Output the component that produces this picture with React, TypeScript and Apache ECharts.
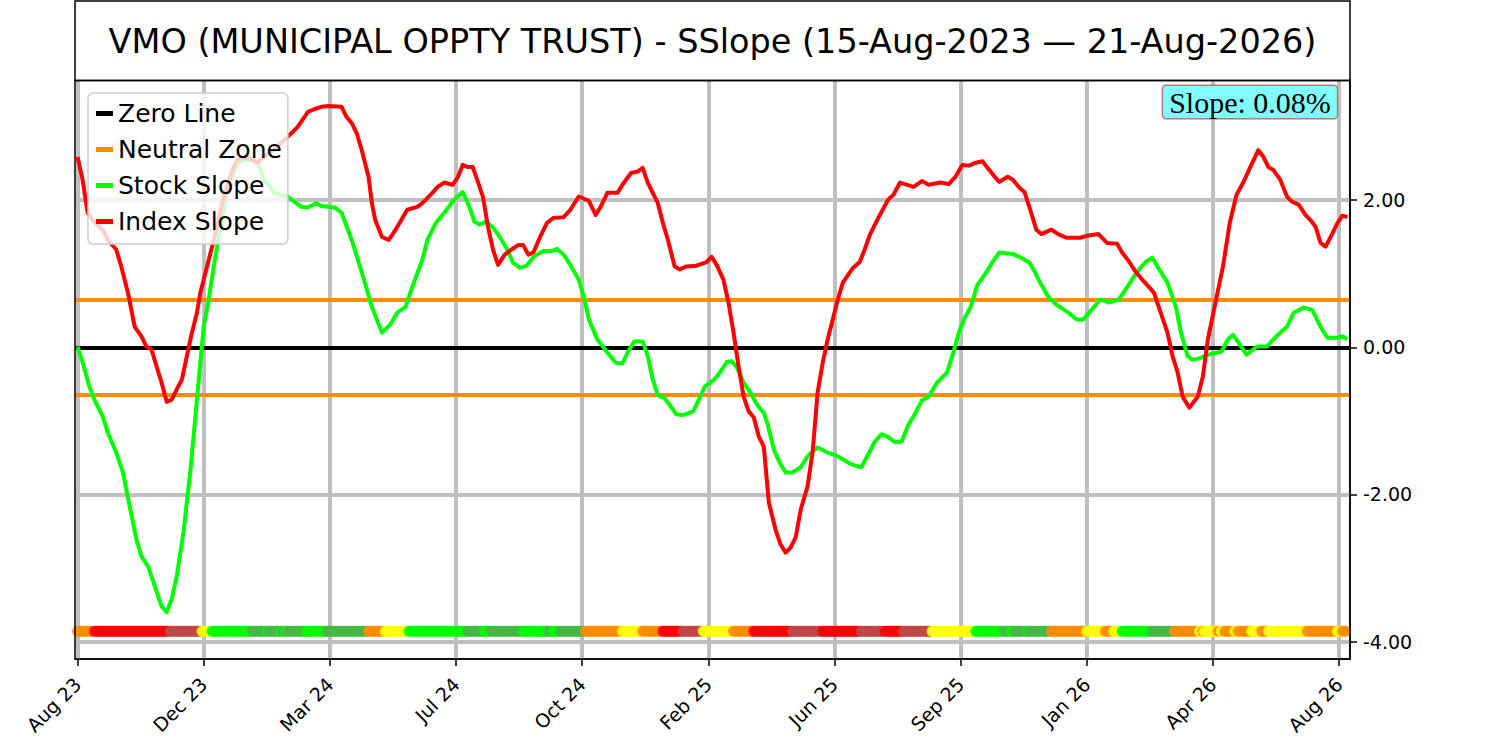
import React, { useEffect, useRef } from "react";
import * as echarts from "echarts";

// ---- axis / reference data ----
const tickIndex = [0, 75, 150, 225, 300, 375, 450, 525, 600, 675, 750];
const tickLabels = ["Aug 23", "Dec 23", "Mar 24", "Jul 24", "Oct 24", "Feb 25", "Jun 25", "Sep 25", "Jan 26", "Apr 26", "Aug 26"];
const yTicks = [-4, -2, 0, 2];
const zeroLevel = 0;
const neutralUpper = 0.65;
const neutralLower = -0.65;
const bandLevel = -3.86;
const bandLength = 755;
const slopeText = "Slope: 0.08%";
const titleText = "VMO (MUNICIPAL OPPTY TRUST) - SSlope (15-Aug-2023 \u2014 21-Aug-2026)";

// ---- series values: [trading-day index, slope] ----
const stockSlope = [
  [0, 0.01], [3, -0.2], [7, -0.53], [10, -0.71], [15, -0.94], [18, -1.16], [23, -1.43], [27, -1.7], [31, -2.16], [35, -2.61],
  [38, -2.84], [42, -2.98], [46, -3.25], [50, -3.52], [53, -3.6], [56, -3.42], [59, -3.11], [63, -2.51], [67, -1.7], [71, -0.71],
  [75, 0.28], [78, 0.65], [81, 1.1], [84, 1.5], [89, 2.14], [94, 2.45], [98, 2.55], [104, 2.55], [107, 2.51], [111, 2.28],
  [117, 2.1], [125, 2.05], [133, 1.91], [137, 1.9], [142, 1.96], [145, 1.92], [153, 1.9], [157, 1.83], [163, 1.46], [169, 1.02],
  [175, 0.55], [181, 0.2], [186, 0.31], [190, 0.47], [195, 0.55], [199, 0.82], [205, 1.19], [208, 1.46], [213, 1.69], [218, 1.83],
  [224, 2.01], [229, 2.11], [233, 1.91], [236, 1.71], [239, 1.67], [243, 1.71], [247, 1.63], [251, 1.5], [255, 1.35], [259, 1.15],
  [263, 1.08], [267, 1.11], [271, 1.23], [277, 1.31], [282, 1.31], [285, 1.34], [289, 1.26], [293, 1.12], [298, 0.92], [301, 0.69],
  [304, 0.38], [309, 0.11], [315, -0.07], [320, -0.21], [324, -0.22], [327, -0.07], [331, 0.08], [336, 0.08], [339, -0.12], [342, -0.44],
  [345, -0.65], [349, -0.69], [352, -0.78], [356, -0.91], [360, -0.92], [366, -0.87], [369, -0.73], [373, -0.53], [378, -0.45], [382, -0.34],
  [386, -0.2], [389, -0.19], [392, -0.27], [396, -0.48], [400, -0.61], [404, -0.78], [408, -0.89], [410, -1.02], [414, -1.39], [418, -1.59],
  [421, -1.7], [425, -1.7], [430, -1.63], [434, -1.48], [440, -1.36], [446, -1.43], [450, -1.46], [455, -1.52], [460, -1.59], [466, -1.63],
  [470, -1.46], [474, -1.28], [478, -1.18], [482, -1.22], [486, -1.29], [490, -1.28], [494, -1.05], [497, -0.94], [502, -0.72], [506, -0.67],
  [511, -0.48], [517, -0.34], [520, -0.12], [524, 0.2], [527, 0.38], [531, 0.55], [535, 0.85], [540, 1.01], [544, 1.16], [548, 1.29],
  [556, 1.27], [560, 1.23], [563, 1.19], [566, 1.15], [569, 1.03], [572, 0.89], [577, 0.69], [582, 0.58], [588, 0.49], [594, 0.38],
  [598, 0.38], [604, 0.54], [608, 0.65], [613, 0.61], [619, 0.65], [624, 0.82], [630, 1.03], [635, 1.16], [639, 1.22], [642, 1.1],
  [648, 0.88], [653, 0.55], [656, 0.2], [660, -0.12], [663, -0.17], [667, -0.15], [672, -0.1], [680, -0.06], [684, 0.11], [687, 0.17],
  [690, 0.07], [695, -0.1], [701, 0.01], [707, 0.01], [711, 0.11], [715, 0.2], [719, 0.28], [723, 0.47], [729, 0.54], [734, 0.51],
  [739, 0.28], [743, 0.13], [749, 0.13], [752, 0.15], [755, 0.11],
];

const indexSlope = [
  [0, 2.59], [3, 2.28], [6, 1.83], [10, 1.7], [15, 1.6], [18, 1.46], [23, 1.33], [26, 1.1], [30, 0.74], [34, 0.28],
  [38, 0.15], [41, 0.01], [44, -0.03], [47, -0.26], [50, -0.48], [53, -0.74], [56, -0.71], [59, -0.57], [62, -0.44], [65, -0.12],
  [68, 0.2], [71, 0.47], [73, 0.74], [77, 1.1], [81, 1.46], [86, 1.96], [92, 2.41], [95, 2.55], [101, 2.58], [107, 2.51],
  [110, 2.58], [117, 2.69], [123, 2.82], [128, 2.93], [131, 3.0], [137, 3.2], [141, 3.24], [145, 3.27], [149, 3.28], [157, 3.27],
  [160, 3.13], [163, 3.05], [166, 2.91], [169, 2.68], [173, 2.32], [175, 1.96], [177, 1.73], [181, 1.5], [185, 1.46], [188, 1.56],
  [192, 1.71], [196, 1.87], [202, 1.91], [205, 1.96], [211, 2.1], [214, 2.18], [218, 2.24], [223, 2.21], [226, 2.31], [229, 2.48],
  [232, 2.45], [235, 2.45], [238, 2.25], [241, 2.05], [244, 1.64], [247, 1.33], [250, 1.12], [254, 1.26], [258, 1.33], [262, 1.39],
  [265, 1.39], [268, 1.26], [271, 1.29], [275, 1.5], [279, 1.69], [283, 1.76], [289, 1.77], [293, 1.87], [298, 2.05], [304, 1.99],
  [308, 1.8], [311, 1.91], [315, 2.1], [321, 2.1], [324, 2.21], [329, 2.37], [333, 2.39], [336, 2.44], [339, 2.24], [345, 1.96],
  [348, 1.69], [351, 1.46], [355, 1.1], [358, 1.06], [362, 1.1], [368, 1.11], [374, 1.16], [377, 1.23], [380, 1.12], [384, 0.92],
  [387, 0.61], [390, 0.2], [393, -0.26], [396, -0.67], [399, -0.87], [402, -0.95], [405, -1.21], [408, -1.35], [411, -2.11], [415, -2.48],
  [418, -2.68], [421, -2.79], [424, -2.72], [427, -2.58], [430, -2.2], [434, -1.89], [437, -1.43], [440, -0.61], [443, -0.21], [446, 0.11],
  [452, 0.65], [455, 0.88], [461, 1.08], [465, 1.16], [468, 1.33], [471, 1.53], [477, 1.8], [482, 2.01], [485, 2.07], [489, 2.24],
  [497, 2.18], [502, 2.26], [506, 2.21], [513, 2.24], [518, 2.22], [522, 2.32], [526, 2.48], [530, 2.47], [534, 2.51], [538, 2.53],
  [541, 2.44], [546, 2.3], [548, 2.25], [553, 2.32], [556, 2.28], [560, 2.17], [563, 2.11], [566, 1.9], [570, 1.6], [573, 1.54],
  [579, 1.6], [583, 1.54], [588, 1.49], [596, 1.49], [601, 1.52], [607, 1.54], [612, 1.42], [618, 1.41], [621, 1.29], [625, 1.17],
  [629, 1.03], [633, 0.92], [637, 0.82], [640, 0.74], [644, 0.47], [648, 0.2], [651, -0.12], [654, -0.34], [657, -0.67], [661, -0.82],
  [666, -0.67], [669, -0.4], [672, 0.11], [676, 0.55], [681, 1.1], [685, 1.69], [689, 2.07], [693, 2.24], [697, 2.44], [702, 2.68],
  [705, 2.59], [708, 2.45], [711, 2.41], [715, 2.28], [719, 2.05], [722, 1.98], [726, 1.94], [730, 1.8], [733, 1.73], [736, 1.64],
  [739, 1.42], [742, 1.37], [745, 1.5], [749, 1.69], [752, 1.79], [755, 1.77],
];

// ---- signal band (run-length: start index and state) ----
const bandStart = [
  0, 10, 55, 74, 80, 104, 113, 114, 121, 122, 124, 125, 136, 148, 173, 183, 197, 232, 242, 246,
  265, 280, 283, 287, 302, 324, 336, 348, 360, 372, 390, 402, 425, 443, 466, 480, 491, 508, 534, 551,
  555, 557, 565, 566, 579, 600, 611, 616, 621, 639, 652, 667, 669, 670, 678, 680, 682, 688, 690, 698,
  704, 708, 731, 749, 752,
];
const bandState = [
  "O", "R", "B", "Y", "L", "G", "L", "G", "L", "G", "L", "G", "L", "G", "O", "Y", "L", "G", "L", "G",
  "L", "G", "L", "G", "O", "Y", "O", "R", "B", "Y", "O", "R", "B", "R", "B", "R", "B", "Y", "L", "G",
  "L", "G", "L", "G", "O", "Y", "O", "Y", "L", "G", "O", "Y", "O", "Y", "O", "Y", "O", "Y", "O", "Y",
  "O", "Y", "O", "Y", "O",
];
const stateColor: Record<string, string> = {
  O: "#ff8c00",
  R: "#ff0000",
  B: "#c04646",
  Y: "#ffff00",
  L: "#00ff00",
  G: "#44b944",
};

const xMin = -1.5;
const xMax = 756.5;
const yMin = -4.236;
const yMax = 3.634;

function buildBand() {
  const out: any[] = [];
  let run = 0;
  for (let i = 0; i < bandLength; i++) {
    while (run + 1 < bandStart.length && bandStart[run + 1] <= i) run++;
    out.push({ value: [i, bandLevel], itemStyle: { color: stateColor[bandState[run]] } });
  }
  return out;
}

const FONT = "DejaVu Sans";

export default function App() {
  const ref = useRef<HTMLDivElement>(null);
  useEffect(() => {
    if (!ref.current) return;
    const chart = echarts.init(ref.current, undefined, { renderer: "svg" });
    const option: any = {
      animation: false,
      backgroundColor: "#ffffff",
      grid: { left: 75, right: 150, top: 80, bottom: 82, containLabel: false },
      xAxis: {
        type: "value",
        min: xMin,
        max: xMax,
        splitLine: { show: false },
        axisLine: { show: true, onZero: false, lineStyle: { color: "#000", width: 1.5 } },
        axisTick: { show: true, customValues: tickIndex, length: 7, lineStyle: { color: "#000", width: 1.5 } },
        axisLabel: {
          show: true,
          customValues: tickIndex,
          rotate: 45,
          margin: 22,
          fontSize: 19,
          fontFamily: FONT,
          color: "#000",
          formatter: (v: number) => {
            const k = tickIndex.indexOf(Math.round(v));
            return k >= 0 ? tickLabels[k] : "";
          },
        },
      },
      yAxis: {
        type: "value",
        position: "right",
        min: yMin,
        max: yMax,
        splitLine: { show: false },
        axisLine: { show: true, onZero: false, lineStyle: { color: "#000", width: 1.5 } },
        axisTick: { show: true, customValues: yTicks, length: 7, lineStyle: { color: "#000", width: 1.5 } },
        axisLabel: {
          show: true,
          customValues: yTicks,
          margin: 13,
          fontSize: 19,
          fontFamily: FONT,
          color: "#000",
          formatter: (v: number) => v.toFixed(2),
        },
      },
      legend: {
        data: ["Zero Line", "Neutral Zone", "Stock Slope", "Index Slope"],
        orient: "vertical",
        left: 88,
        top: 93,
        icon: "rect",
        itemWidth: 17,
        itemHeight: 5,
        itemGap: 11,
        padding: [8, 6, 10, 8],
        backgroundColor: "rgba(255,255,255,0.8)",
        borderColor: "#cccccc",
        borderWidth: 1.5,
        borderRadius: 5,
        z: 10,
        textStyle: { fontSize: 25, fontFamily: FONT, color: "#000", lineHeight: 25 },
      },
      graphic: [
        {
          type: "rect",
          z: 100,
          shape: { x: 75, y: 1, width: 1275, height: 79.5 },
          style: { fill: "#ffffff", stroke: "#000", lineWidth: 1.5 },
        },
        {
          type: "text",
          z: 101,
          x: 712.5,
          y: 41,
          style: {
            text: titleText,
            font: `33.5px "${FONT}"`,
            fill: "#000",
            align: "center",
            verticalAlign: "middle",
          },
        },
        {
          type: "rect",
          z: 100,
          shape: { x: 75, y: 80.5, width: 1275, height: 578.5 },
          style: { fill: "none", stroke: "#000", lineWidth: 1.5 },
        },
        {
          type: "text",
          z: 101,
          x: 1250,
          y: 102,
          style: {
            text: slopeText,
            font: '30px "Liberation Serif"',
            fill: "#000",
            align: "center",
            verticalAlign: "middle",
            backgroundColor: "#80ffff",
            borderColor: "#b07878",
            borderWidth: 1.5,
            borderRadius: 3,
            padding: [1, 6, 1, 6],
            lineHeight: 30,
          },
        },
      ],
      series: [
        {
          type: "line",
          name: "gridlines",
          data: [],
          z: 1,
          silent: true,
          markLine: {
            z: 1,
            silent: true,
            symbol: ["none", "none"],
            label: { show: false },
            emphasis: { disabled: true },
            lineStyle: { color: "#bfbfbf", width: 4, type: "solid" },
            data: [...yTicks.map((v) => ({ yAxis: v })), ...tickIndex.map((v) => ({ xAxis: v }))],
          },
        },
        {
          type: "line",
          name: "Zero Line",
          data: [],
          z: 2,
          itemStyle: { color: "#000000" },
          lineStyle: { color: "#000000", width: 4 },
          markLine: {
            z: 2,
            silent: true,
            symbol: ["none", "none"],
            label: { show: false },
            emphasis: { disabled: true },
            lineStyle: { color: "#000000", width: 4, type: "solid" },
            data: [{ yAxis: zeroLevel }],
          },
        },
        {
          type: "line",
          name: "Neutral Zone",
          data: [],
          z: 2,
          itemStyle: { color: "#ff8c00" },
          lineStyle: { color: "#ff8c00", width: 4 },
          markLine: {
            z: 2,
            silent: true,
            symbol: ["none", "none"],
            label: { show: false },
            emphasis: { disabled: true },
            lineStyle: { color: "#ff8c00", width: 4, type: "solid" },
            data: [{ yAxis: neutralUpper }, { yAxis: neutralLower }],
          },
        },
        {
          type: "scatter",
          name: "Signal",
          data: buildBand(),
          symbol: "circle",
          symbolSize: 11,
          z: 3,
          silent: true,
        },
        {
          type: "line",
          name: "Stock Slope",
          data: stockSlope,
          z: 4,
          symbol: "none",
          showSymbol: false,
          itemStyle: { color: "#00ff00" },
          lineStyle: { color: "#00ff00", width: 4, join: "round" },
        },
        {
          type: "line",
          name: "Index Slope",
          data: indexSlope,
          z: 5,
          symbol: "none",
          showSymbol: false,
          itemStyle: { color: "#ff0000" },
          lineStyle: { color: "#ff0000", width: 4, join: "round" },
        },
      ],
    };
    chart.setOption(option);
    return () => chart.dispose();
  }, []);
  return (
    <div
      ref={ref}
      style={{ position: "fixed", left: 0, top: 0, width: 1500, height: 741, background: "#fff" }}
    />
  );
}
